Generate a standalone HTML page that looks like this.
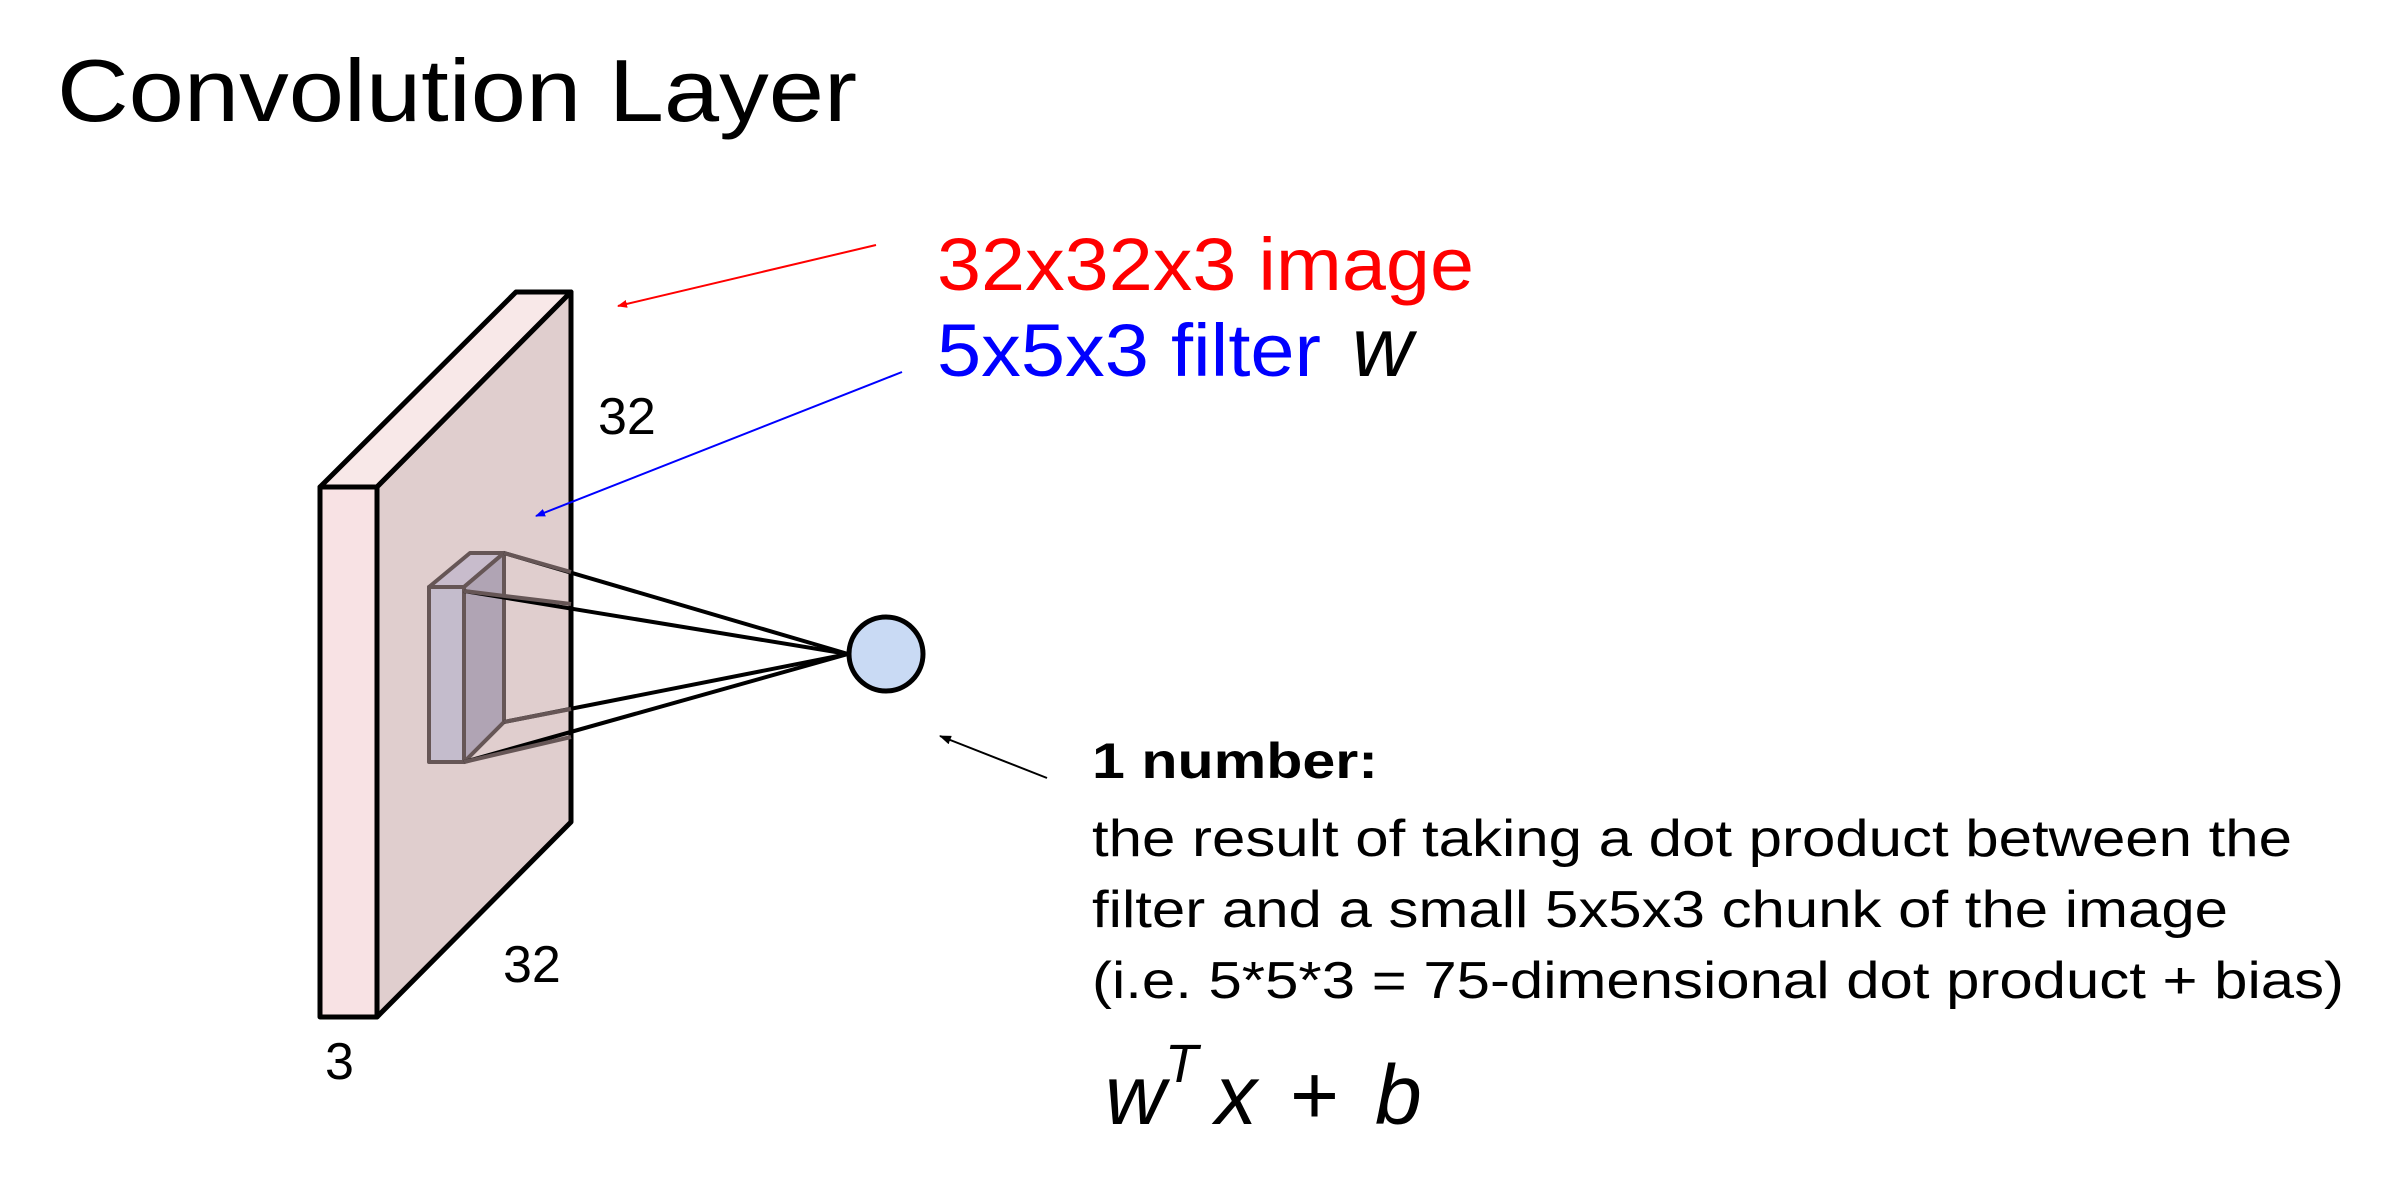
<!DOCTYPE html>
<html><head><meta charset="utf-8"><style>
html,body{margin:0;padding:0;background:#fff;}
svg{display:block;}
text{font-family:"Liberation Sans",Arial,sans-serif;}
</style></head><body>
<svg width="2401" height="1194" viewBox="0 0 2401 1194" xmlns="http://www.w3.org/2000/svg">
<defs>
<marker id="ar" markerWidth="10" markerHeight="8" refX="9" refY="4" orient="auto" markerUnits="userSpaceOnUse"><path d="M0,0 L10,4 L0,8 z" fill="#f00"/></marker>
<marker id="ab" markerWidth="10" markerHeight="8" refX="9" refY="4" orient="auto" markerUnits="userSpaceOnUse"><path d="M0,0 L10,4 L0,8 z" fill="#00f"/></marker>
<marker id="ak" markerWidth="12" markerHeight="9" refX="11" refY="4.5" orient="auto" markerUnits="userSpaceOnUse"><path d="M0,0 L12,4.5 L0,9 z" fill="#000"/></marker>
</defs>
<text x="57" y="121" font-size="88" textLength="800" lengthAdjust="spacingAndGlyphs">Convolution Layer</text>

<g stroke="#000" stroke-width="5" stroke-linejoin="round">
<polygon points="320,487 516,292 571,292 377,487" fill="#f8e8e8"/>
<polygon points="377,487 571,292 571,822 377,1017" fill="#e0cece"/>
<rect x="320" y="487" width="57" height="530" fill="#f8e2e4"/>
</g>

<g stroke="#665656" stroke-width="4" stroke-linejoin="round">
<polygon points="429,587 470,553 504,553 464,587" fill="#c8bccc"/>
<polygon points="464,587 504,553 504,722 464,762" fill="#b0a4b4"/>
<rect x="429" y="587" width="35" height="175" fill="#c4bccc"/>
</g>

<g stroke="#000" stroke-width="4">
<line x1="504" y1="553" x2="848" y2="654"/>
<line x1="464" y1="591" x2="848" y2="654"/>
<line x1="504" y1="722" x2="848" y2="654"/>
<line x1="464" y1="762" x2="848" y2="654"/>
</g>
<g stroke="#665656" stroke-width="4">
<line x1="504" y1="553" x2="571" y2="572"/>
<line x1="464" y1="591" x2="571" y2="604"/>
<line x1="504" y1="722" x2="571" y2="709"/>
<line x1="464" y1="762" x2="571" y2="737"/>
</g>

<circle cx="886" cy="654" r="37" fill="#c9daf4" stroke="#000" stroke-width="5"/>

<line x1="876" y1="245" x2="618" y2="306" stroke="#f00" stroke-width="2" marker-end="url(#ar)"/>
<line x1="902" y1="372" x2="536" y2="516" stroke="#00f" stroke-width="2" marker-end="url(#ab)"/>
<line x1="1047" y1="778" x2="940" y2="736" stroke="#000" stroke-width="2" marker-end="url(#ak)"/>

<text x="598" y="434" font-size="52">32</text>
<text x="503" y="982" font-size="52">32</text>
<text x="325" y="1079" font-size="52">3</text>

<text x="937" y="290" font-size="74" fill="#f00" textLength="537" lengthAdjust="spacingAndGlyphs">32x32x3 image</text>
<text x="937" y="376" font-size="74" fill="#00f" textLength="384" lengthAdjust="spacingAndGlyphs">5x5x3 filter</text>
<text x="1352" y="376" font-size="84" font-style="italic" font-family="Liberation Serif,serif">w</text>

<text x="1092" y="778" font-size="50" font-weight="bold" textLength="286" lengthAdjust="spacingAndGlyphs">1 number:</text>
<text x="1092" y="856" font-size="52" textLength="1200" lengthAdjust="spacingAndGlyphs">the result of taking a dot product between the</text>
<text x="1092" y="927" font-size="52" textLength="1136" lengthAdjust="spacingAndGlyphs">filter and a small 5x5x3 chunk of the image</text>
<text x="1092" y="998" font-size="52" textLength="1252" lengthAdjust="spacingAndGlyphs">(i.e. 5*5*3 = 75-dimensional dot product + bias)</text>

<g font-family="Liberation Serif,serif" font-style="italic">
<text x="1105" y="1124" font-size="84">w</text>
<text x="1165" y="1082" font-size="54">T</text>
<text x="1215" y="1124" font-size="84">x</text>
<text x="1290" y="1124" font-size="84" font-style="normal">+</text>
<text x="1375" y="1124" font-size="84">b</text>
</g>
</svg>
</body></html>
